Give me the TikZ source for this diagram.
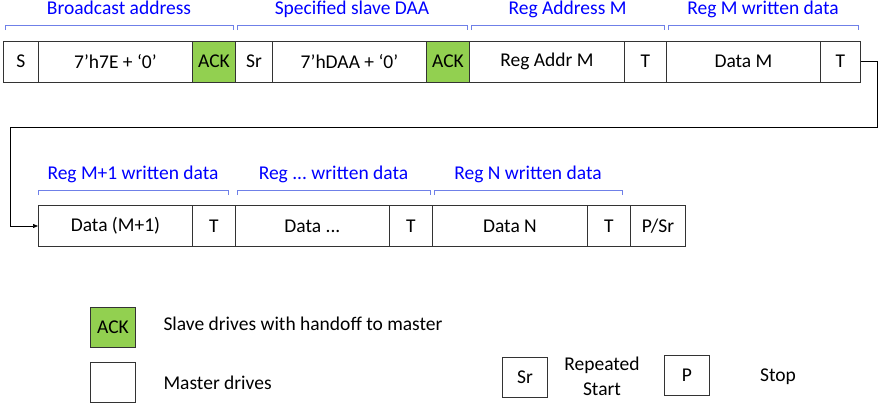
\documentclass[tikz,border=0pt]{standalone}
\usepackage{fontspec}
\setmainfont{Carlito}
\usetikzlibrary{arrows.meta}
\definecolor{ackg}{HTML}{92D050}
\definecolor{lblue}{HTML}{0000FF}
\definecolor{brk}{HTML}{6F80E8}
\newcommand\mydots{...}
\begin{document}
\begin{tikzpicture}[x=1pt,y=-1pt,
  cell/.style={draw=black!80,line width=0.9pt,minimum height=41pt,inner sep=0pt,anchor=west,font=\fontsize{19.5}{22}\selectfont},
  ack/.style={cell,fill=ackg},
  lbl/.style={text=lblue,font=\fontsize{19.5}{22}\selectfont},
  txt/.style={font=\fontsize{19.5}{22}\selectfont},
  brace/.style={draw=brk,line width=0.9pt}]
\useasboundingbox (0,0) rectangle (878,410);
% row 1
\foreach \a/\b/\t/\n/\s in {3/38/S/r1/cell,38/192/{7'h7E + ‘0’}/r2/cell,192/235/ACK/r3/ack,235/272/Sr/r4/cell,272/426/{7'hDAA + ‘0’}/r5/cell,426/469/ACK/r6/ack,469/624/Reg Addr M/r7/cell,624/666/T/r8/cell,666/820/Data M/r9/cell,820/860/T/r10/cell}
  \node[\s,minimum width={\b-\a}] (\n) at (\a,61.5) {\t};
% row 2
\foreach \a/\b/\t/\n in {38/192/Data (M+1)/s1,192/235/T/s2,235/389/{Data \mydots}/s3,389/432/T/s4,432/587/Data N/s5,587/630/T/s6,630/685/{P/Sr}/s7}
  \node[cell,minimum width={\b-\a}] (\n) at (\a,226) {\t};
% brackets
\foreach \a/\b/\y/\t in {5/233/25/Broadcast address,237/467/25/Specified slave DAA,471/664/25/Reg Address M,668/858/25/Reg M written data,38/228/190/Reg M+1 written data,237/430/190/{Reg \mydots\ written data},434/622/190/Reg N written data}{
  \draw[brace] (\a,\y+5) -- (\a,\y) -- (\b,\y) -- (\b,\y+5);
  \node[lbl,anchor=base] at ({(\a+\b)/2},\y-11) {\t};
}
% connector
\coordinate (c1) at (877,61.5);
\coordinate (c2) at (877,127);
\coordinate (c3) at (10,127);
\coordinate (c4) at (10,226);
\draw[line width=0.7pt,-{Triangle[length=5pt,width=4pt]}] (r10.east) -- (c1) -- (c2) -- (c3) -- (c4) -- (s1.west);
% legend
\node[ack,minimum width=45pt,minimum height=40pt] (la) at (90,327) {ACK};
\node[txt,anchor=west] (lat) at (160,324) {Slave drives with handoff to master};
\node[cell,minimum width=45pt,minimum height=40pt] (lm) at (90,382) {};
\node[txt,anchor=west] (lmt) at (160,383) {Master drives};
\node[cell,minimum width=45pt,minimum height=40pt] (lsr) at (502,377) {Sr};
\node[txt,align=center,font=\fontsize{19.5}{25}\selectfont] (lsrt) at (602,376) {Repeated\\Start};
\node[cell,minimum width=45pt,minimum height=40pt] (lp) at (664,375) {P};
\node[txt] (lpt) at (778,377) {Stop};
\end{tikzpicture}
\end{document}
